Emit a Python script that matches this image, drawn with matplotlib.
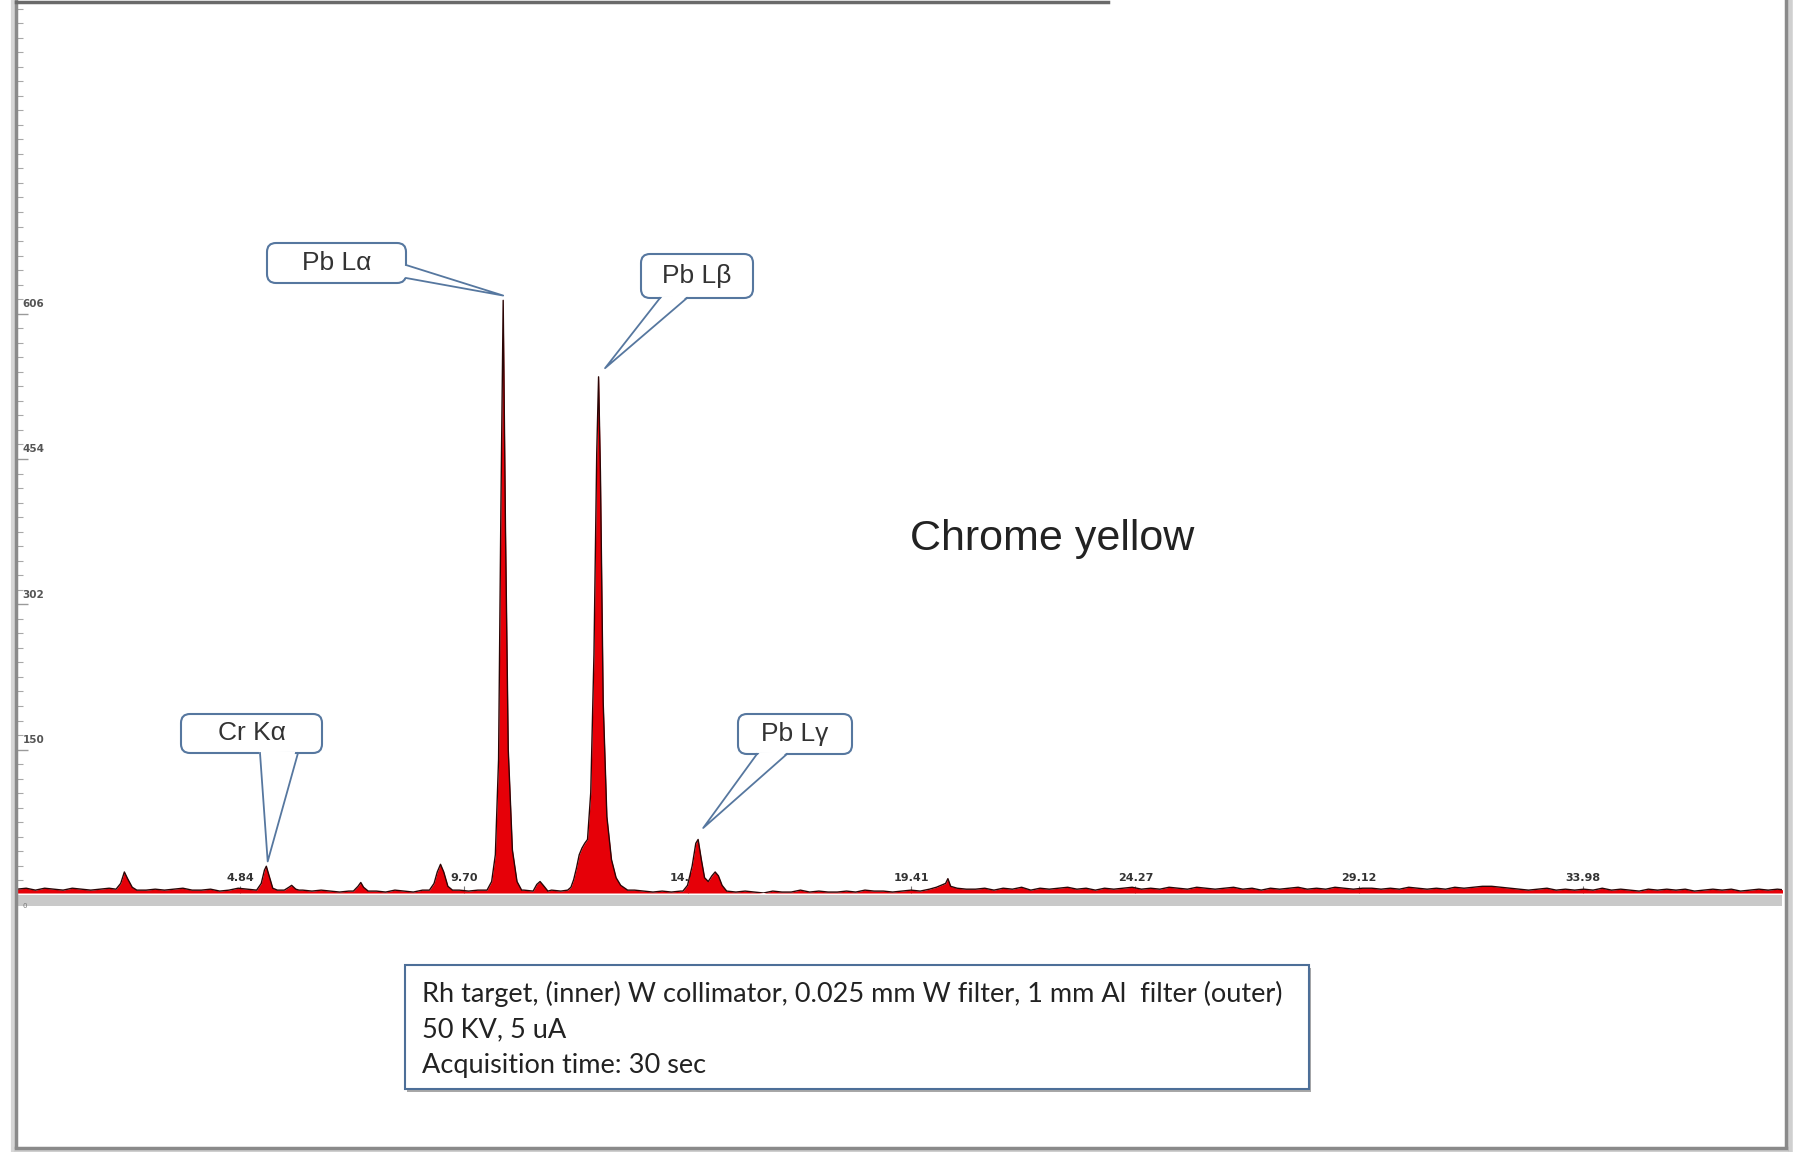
import numpy as np
import matplotlib.pyplot as plt
from matplotlib.patches import FancyBboxPatch, Polygon, Rectangle
from matplotlib.ticker import FixedLocator

W, H = 1795, 1152

# background / noise, one value every 0.2 keV from 0 to 38.4 keV
base_step = 0.2
base_counts = [4, 5, 3, 5, 4, 3, 5, 4, 3, 4,
               5, 4, 4, 4, 3, 4, 3, 4, 5, 3,
               3, 4, 2, 3, 5, 4, 3, 3, 3, 3,
               3, 3, 2, 3, 2, 1, 2, 2, 2, 2,
               1, 3, 2, 1, 3, 3, 3, 3, 3, 2,
               3, 2, 2, 2, 2, 3, 2, 3, 3, 2,
               3, 3, 3, 3, 3, 3, 3, 3, 2, 1,
               2, 1, 2, 2, 2, 2, 2, 2, 1, 2,
               1, 0, 2, 1, 1, 3, 1, 2, 1, 1,
               2, 1, 3, 2, 2, 1, 2, 3, 2, 3,
               5, 5, 5, 5, 4, 5, 3, 5, 4, 6,
               3, 5, 4, 5, 6, 4, 5, 3, 5, 4,
               5, 6, 4, 5, 4, 6, 5, 4, 6, 5,
               4, 5, 6, 4, 5, 3, 5, 4, 5, 6,
               4, 5, 4, 6, 5, 4, 5, 5, 4, 5,
               4, 6, 5, 4, 5, 4, 6, 5, 6, 7,
               7, 6, 5, 4, 3, 4, 5, 3, 4, 3,
               4, 3, 5, 3, 4, 3, 2, 4, 3, 4,
               3, 4, 2, 3, 4, 3, 4, 2, 3, 4,
               3, 4, 3]

# peaks (keV, counts)
pb_m_e = [2.15, 2.25, 2.33, 2.40, 2.50, 2.60]
pb_m_c = [4, 10, 22, 15, 6, 3]
cr_k_e = [5.20, 5.30, 5.37, 5.41, 5.47, 5.55, 5.65, 5.80, 5.90, 5.96, 6.05, 6.12]
cr_k_c = [3, 10, 24, 28, 18, 5, 3, 3, 6, 8, 4, 3]
ni_k_e = [7.30, 7.40, 7.46, 7.52, 7.62]
ni_k_c = [2, 7, 11, 6, 2]
pb_ll_e = [8.95, 9.05, 9.12, 9.19, 9.26, 9.35, 9.45]
pb_ll_c = [3, 10, 22, 30, 22, 7, 3]
pb_la_e = [10.20, 10.30, 10.38, 10.45, 10.50, 10.55, 10.60, 10.66, 10.75, 10.85, 10.95]
pb_la_c = [3, 12, 40, 140, 400, 620, 380, 150, 45, 12, 3]
pb_ln_e = [11.20, 11.28, 11.35, 11.42, 11.52]
pb_ln_c = [2, 9, 12, 8, 2]
pb_lb_e = [11.95, 12.02, 12.08, 12.14, 12.20, 12.26, 12.32, 12.38, 12.45, 12.52,
           12.58, 12.62, 12.66, 12.72, 12.80, 12.90, 13.00, 13.10, 13.25]
pb_lb_c = [3, 6, 14, 26, 40, 47, 52, 56, 105, 250, 460, 540, 440, 200, 80, 35, 16, 8, 3]
pb_lg_e = [14.45, 14.55, 14.65, 14.73, 14.78, 14.85, 14.92, 15.00, 15.08,
           15.15, 15.22, 15.30, 15.40]
pb_lg_c = [2, 8, 28, 52, 56, 35, 16, 12, 18, 22, 18, 8, 2]
rh_k_e = [19.80, 19.95, 20.05, 20.15, 20.20, 20.26, 20.40, 20.60]
rh_k_c = [4, 6, 8, 10, 15, 7, 5, 4]

x_tick_kev = [4.84, 9.70, 14.55, 19.41, 24.27, 29.12, 33.98]
y_tick_counts = [150, 302, 454, 606]

callout_labels = ['Cr Kα', 'Pb Lα', 'Pb Lβ', 'Pb Lγ']
callout_tips = [(5.44, 33), (10.55, 625), (12.76, 549), (14.89, 68)]

# build spectrum: background where no peak was read
peaks = [(pb_m_e, pb_m_c), (cr_k_e, cr_k_c), (ni_k_e, ni_k_c), (pb_ll_e, pb_ll_c),
         (pb_la_e, pb_la_c), (pb_ln_e, pb_ln_c), (pb_lb_e, pb_lb_c),
         (pb_lg_e, pb_lg_c), (rh_k_e, rh_k_c)]
e_base = np.arange(len(base_counts)) * base_step
c_base = np.array(base_counts, dtype=float)
keep = np.ones(len(e_base), dtype=bool)
for pe, pc in peaks:
    keep &= ~((e_base >= min(pe)) & (e_base <= max(pe)))
energy = np.concatenate([e_base[keep]] + [np.array(pe) for pe, pc in peaks])
counts = np.concatenate([c_base[keep]] + [np.array(pc, dtype=float) for pe, pc in peaks])
order = np.argsort(energy)
energy = energy[order]
counts = counts[order]

fig = plt.figure(figsize=(W / 100, H / 100), dpi=100)
fig.patch.set_facecolor('white')

ax = fig.add_axes([17 / W, (H - 893) / H, 1765 / W, 889 / H])
ax.set_xlim(0, 38.3)
ax.set_ylim(0, 930)
ax.set_facecolor('none')
for s in ax.spines.values():
    s.set_visible(False)

ax.fill_between(energy, 0, counts, color='#e60008', lw=0, zorder=2)
ax.plot(energy, counts, color='#2b0505', lw=1.0, zorder=3)

ax.set_xticks(x_tick_kev)
ax.set_xticklabels([])
ax.tick_params(axis='x', direction='in', length=5, width=0.8, color='#777777')
ax.set_yticks(y_tick_counts)
ax.yaxis.set_minor_locator(FixedLocator(np.arange(-2 + 15.2, 930, 15.2)))
ax.set_yticklabels([])
ax.tick_params(axis='y', which='major', direction='in', length=8, width=1, color='#9a9a9a')
ax.tick_params(axis='y', which='minor', direction='in', length=4, width=0.8, color='#a8a8a8')

for v in y_tick_counts:
    ax.text(0.12, v + 10, str(v), fontsize=7.5, fontweight='bold', color='#555555',
            ha='left', va='center')
for e in x_tick_kev:
    ax.text(e, 15.5, f'{e:.2f}', fontsize=8, fontweight='bold', color='#333333',
            ha='center', va='center', zorder=1)

# overlay in pixel coordinates (y down)
ov = fig.add_axes([0, 0, 1, 1])
ov.set_xlim(0, W)
ov.set_ylim(H, 0)
ov.axis('off')
ov.patch.set_visible(False)

# page frame
ov.plot([13, 13], [0, 1150], color='#d6d6d6', lw=3)
ov.plot([16, 16], [0, 1149], color='#8a8a8a', lw=2.5)
ov.plot([1790, 1790], [0, 1152], color='#d0d0d0', lw=4)
ov.plot([1786, 1786], [0, 1149], color='#8a8a8a', lw=2.5)
ov.plot([16, 1786], [1151, 1151], color='#cfcfcf', lw=3)
ov.plot([16, 1786], [1148, 1148], color='#8a8a8a', lw=2.5)
ov.plot([16, 1108], [2, 2], color='#6a6a6a', lw=2.5)

# gray strip under the baseline
ov.add_patch(Rectangle((17, 895), 1765, 11, color='#c9c9c9', lw=0))
ov.text(25, 906, '0', fontsize=5, color='#777777', ha='center', va='center')

# callouts
boxes = [(181, 714, 141, 39), (267, 243, 139, 40), (641, 254, 112, 44), (738, 714, 114, 40)]
bases = [((260, 753), (298, 753)), ((406, 265), (406, 278)),
         ((660, 298), (687, 298)), ((757, 754), (787, 754))]
edge = '#56779f'
for label, tip, (bx, by, bw, bh), (b1, b2) in zip(callout_labels, callout_tips, boxes, bases):
    dx, dy = ax.transData.transform(tip)
    tx, ty = dx, H - dy
    ov.add_patch(FancyBboxPatch((bx, by), bw, bh, boxstyle='round,pad=0,rounding_size=9',
                                fc='white', ec=edge, lw=1.5, zorder=5))
    cx, cy = bx + bw / 2, by + bh / 2
    inner = []
    for px, py in (b1, b2):
        vx, vy = cx - px, cy - py
        n = np.hypot(vx, vy)
        inner.append((px + 3 * vx / n, py + 3 * vy / n))
    ov.add_patch(Polygon([inner[0], (tx, ty), inner[1]], closed=True, fc='white',
                         ec='none', zorder=6))
    ov.plot([b1[0], tx, b2[0]], [b1[1], ty, b2[1]], color=edge, lw=1.3, zorder=7)
    ov.text(cx, cy, label, fontsize=19, family='Liberation Sans', color='#333333',
            ha='center', va='center', zorder=8)

ov.text(910, 539, 'Chrome yellow', fontsize=31, family='Liberation Sans', color='#222222',
        ha='left', va='center')

# info box
ov.add_patch(Rectangle((407, 968), 904, 124, fc='#a8a8a8', ec='none', zorder=3))
ov.add_patch(Rectangle((405, 965), 904, 124, fc='white', ec='#4d6f98', lw=1.5, zorder=4))
info_lines = ['Rh target, (inner) W collimator, 0.025 mm W filter, 1 mm Al  filter (outer)',
              '50 KV, 5 uA',
              'Acquisition time: 30 sec']
for i, line in enumerate(info_lines):
    ov.text(422, 994 + i * 35.5, line, fontsize=19.5, family='Lato', color='#222222',
            ha='left', va='center', zorder=5)

fig.savefig('out.png', dpi=100)
